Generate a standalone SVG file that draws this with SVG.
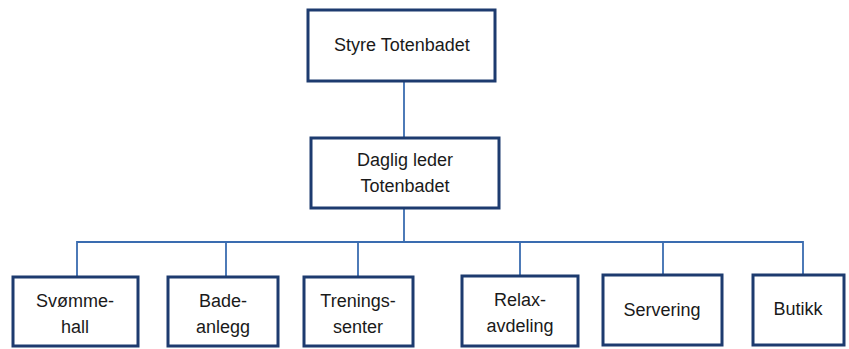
<svg xmlns="http://www.w3.org/2000/svg" width="849" height="349" viewBox="0 0 849 349">
<style>
.box{fill:#fff;stroke:#1d3b6f;stroke-width:3}
.t{font-family:"Liberation Sans",Arial,sans-serif;font-size:18px;fill:#1a1a1a;text-anchor:middle;dominant-baseline:central}
.c{fill:none;stroke:#3a6cb0;stroke-width:1.8}
</style>
<rect width="849" height="349" fill="#fff"/>
<g id="connectors">
<line class="c" x1="404" y1="81" x2="404" y2="138"/>
<line class="c" x1="404" y1="208" x2="404" y2="242"/>
<polyline class="c" points="77,276 77,242 803,242 803,276"/>
<line class="c" x1="226" y1="242" x2="226" y2="276"/>
<line class="c" x1="358" y1="242" x2="358" y2="276"/>
<line class="c" x1="520" y1="242" x2="520" y2="276"/>
<line class="c" x1="663" y1="242" x2="663" y2="276"/>
</g>
<g id="styre">
<rect class="box" x="308" y="10" width="187" height="71"/>
<text class="t" x="402" y="45">Styre Totenbadet</text>
</g>
<g id="daglig">
<rect class="box" x="311" y="138" width="188" height="70"/>
<text class="t" x="405" y="160">Daglig leder</text>
<text class="t" x="405" y="186">Totenbadet</text>
</g>
<g id="svomme">
<rect class="box" x="13" y="277" width="125" height="69"/>
<text class="t" x="75" y="301">Svømme-</text>
<text class="t" x="75" y="327">hall</text>
</g>
<g id="bade">
<rect class="box" x="168" y="277" width="110" height="69"/>
<text class="t" x="223" y="301">Bade-</text>
<text class="t" x="223" y="327">anlegg</text>
</g>
<g id="trenings">
<rect class="box" x="304" y="277" width="109" height="69"/>
<text class="t" x="358" y="301">Trenings-</text>
<text class="t" x="358" y="327">senter</text>
</g>
<g id="relax">
<rect class="box" x="462" y="276" width="116" height="70"/>
<text class="t" x="520" y="300">Relax-</text>
<text class="t" x="520" y="326">avdeling</text>
</g>
<g id="servering">
<rect class="box" x="603" y="275" width="119" height="70"/>
<text class="t" x="662" y="310">Servering</text>
</g>
<g id="butikk">
<rect class="box" x="753" y="275" width="91" height="70"/>
<text class="t" x="798" y="309">Butikk</text>
</g>
</svg>
